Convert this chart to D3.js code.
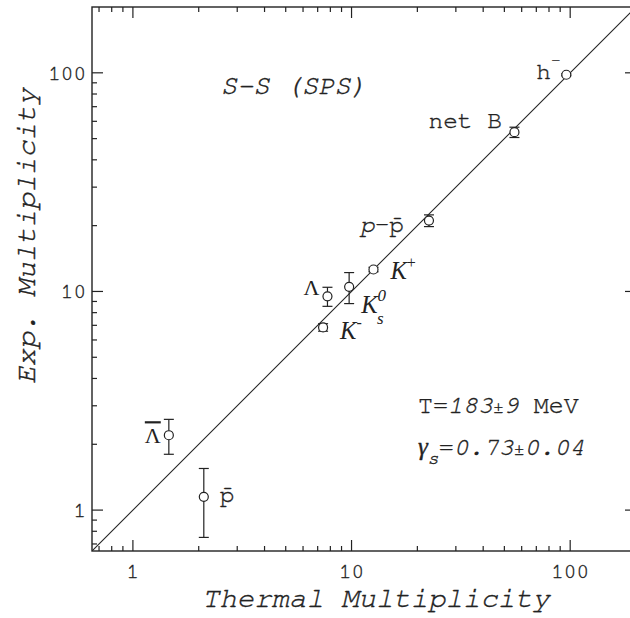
<!DOCTYPE html>
<html>
<head>
<meta charset="utf-8">
<script src="https://cdn.jsdelivr.net/npm/d3@7"></script>
<style>
  body { margin: 0; background: #fff; }
  text { fill: #222; }
  .heavy { stroke: #222; stroke-width: 0.35px; }
</style>
</head>
<body>
<div id="chart"></div>
<script>
// particle species, thermal-model prediction, measured value and its error
var particles = ["h-", "netB", "p-pbar", "K+", "K0s", "Lambda", "K-", "Lambdabar", "pbar"];
var thermal  = [96, 55.6, 22.6, 12.6, 9.75, 7.76, 7.41, 1.46, 2.11];
var measured = [98, 53.5, 21.1, 12.6, 10.5, 9.5, 6.85, 2.2, 1.15];
var errors   = [1, 2.9, 1.3, 0.3, 1.7, 0.95, 0.27, 0.4, 0.4];

var xTicks = [1, 10, 100];
var yTicks = [1, 10, 100];

var margin = { left: 92, top: 7 };
var size = 544;
var W = 630, H = 618;

var svg = d3.select("#chart").append("svg")
    .attr("width", W)
    .attr("height", H);

var g = svg.append("g")
    .attr("transform", "translate(" + margin.left + "," + margin.top + ")");

var xScale = d3.scaleLog().domain([0.65, 200]).range([0, size]);
var yScale = d3.scaleLog().domain([0.65, 200]).range([size, 0]);

// minor ticks 2..9 x 10^k inside the domain
function minorTicks(scale) {
    var out = [];
    [0.1, 1, 10, 100].forEach(function (p) {
        for (var i = 2; i <= 9; i++) {
            var v = i * p;
            if (v > scale.domain()[0] && v < scale.domain()[1]) out.push(v);
        }
    });
    return out;
}

var ink = "#222";

// frame
g.append("rect")
    .attr("width", size).attr("height", size)
    .attr("fill", "none").attr("stroke", ink).attr("stroke-width", 1.4);

// ticks pointing inward on all four sides
function drawTicks(cls, vals, len) {
    g.selectAll(".xb" + cls).data(vals).enter().append("line")
        .attr("x1", function (d) { return xScale(d); }).attr("x2", function (d) { return xScale(d); })
        .attr("y1", size).attr("y2", size - len)
        .attr("stroke", ink).attr("stroke-width", 1.2);
    g.selectAll(".xt" + cls).data(vals).enter().append("line")
        .attr("x1", function (d) { return xScale(d); }).attr("x2", function (d) { return xScale(d); })
        .attr("y1", 0).attr("y2", len)
        .attr("stroke", ink).attr("stroke-width", 1.2);
    g.selectAll(".yl" + cls).data(vals).enter().append("line")
        .attr("y1", function (d) { return yScale(d); }).attr("y2", function (d) { return yScale(d); })
        .attr("x1", 0).attr("x2", len)
        .attr("stroke", ink).attr("stroke-width", 1.2);
    g.selectAll(".yr" + cls).data(vals).enter().append("line")
        .attr("y1", function (d) { return yScale(d); }).attr("y2", function (d) { return yScale(d); })
        .attr("x1", size).attr("x2", size - len)
        .attr("stroke", ink).attr("stroke-width", 1.2);
}
drawTicks("major", xTicks, 11);
drawTicks("minor", minorTicks(xScale), 5);

var mono = "'Nimbus Mono PS', 'Nimbus Mono L', FreeMono, 'Courier New', Courier, 'Liberation Mono', monospace";
var serif = "'Liberation Serif', 'Times New Roman', serif";

// tick labels
g.selectAll(".xlab").data(xTicks).enter().append("text")
    .attr("class", "heavy")
    .attr("x", function (d) { return xScale(d); })
    .attr("y", size + 27)
    .attr("text-anchor", "middle")
    .attr("font-family", mono).attr("font-size", 21)
    .text(function (d) { return d; });

g.selectAll(".ylab").data(yTicks).enter().append("text")
    .attr("class", "heavy")
    .attr("x", -6)
    .attr("y", function (d) { return yScale(d) + 7; })
    .attr("text-anchor", "end")
    .attr("font-family", mono).attr("font-size", 21)
    .text(function (d) { return d; });

// axis titles
svg.append("text")
    .attr("class", "heavy")
    .attr("x", 376).attr("y", 607)
    .attr("text-anchor", "middle")
    .attr("font-family", mono).attr("font-size", 29).attr("font-style", "italic")
    .text("Thermal Multiplicity");

svg.append("text")
    .attr("class", "heavy")
    .attr("transform", "translate(35,236) rotate(-90)")
    .attr("text-anchor", "middle")
    .attr("font-family", mono).attr("font-size", 29).attr("font-style", "italic")
    .text("Exp. Multiplicity");

// y = x line
svg.append("clipPath").attr("id", "plotClip")
    .append("rect").attr("width", size).attr("height", size);

var diag = d3.line()
    .x(function (d) { return xScale(d); })
    .y(function (d) { return yScale(d); });

g.append("path")
    .datum(xScale.domain())
    .attr("d", diag)
    .attr("clip-path", "url(#plotClip)")
    .attr("fill", "none").attr("stroke", ink).attr("stroke-width", 1.1);

// error bars
var pts = particles.map(function (p, i) {
    return { name: p, x: thermal[i], y: measured[i], e: errors[i] };
});

var eb = g.selectAll(".err").data(pts).enter().append("g").attr("class", "err");
eb.append("line")
    .attr("x1", function (d) { return xScale(d.x); }).attr("x2", function (d) { return xScale(d.x); })
    .attr("y1", function (d) { return yScale(d.y + d.e); }).attr("y2", function (d) { return yScale(d.y - d.e); })
    .attr("stroke", ink).attr("stroke-width", 1.2);
[1, -1].forEach(function (s) {
    eb.append("line")
        .attr("x1", function (d) { return xScale(d.x) - 5; }).attr("x2", function (d) { return xScale(d.x) + 5; })
        .attr("y1", function (d) { return yScale(d.y + s * d.e); }).attr("y2", function (d) { return yScale(d.y + s * d.e); })
        .attr("stroke", ink).attr("stroke-width", 1.2);
});

g.selectAll(".dot").data(pts).enter().append("circle")
    .attr("class", "dot")
    .attr("cx", function (d) { return xScale(d.x); })
    .attr("cy", function (d) { return yScale(d.y); })
    .attr("r", 4.5)
    .attr("fill", "#fff").attr("stroke", ink).attr("stroke-width", 1.2);

// particle labels, offset from their points
function label(i, dx, dy) {
    return g.append("text")
        .attr("class", "heavy")
        .attr("x", xScale(thermal[i]) + dx)
        .attr("y", yScale(measured[i]) + dy)
        .attr("font-family", mono).attr("font-size", 24.5);
}

var t;
t = label(0, -30, 4);
t.append("tspan").text("h");
t.append("tspan").attr("dy", -14).attr("font-size", 16).text("-");

label(1, -86, -4).text("net B");

t = label(2, -69, 11);
t.append("tspan").attr("font-style", "italic").text("p");
t.append("tspan").text("-p\u0304");

t = label(3, 17, 9).attr("font-family", serif).attr("class", null);
t.append("tspan").attr("font-style", "italic").text("K");
t.append("tspan").attr("dy", -11).attr("font-size", 16).text("+");

t = label(4, 12, 26).attr("font-family", serif).attr("class", null);
t.append("tspan").attr("font-style", "italic").text("K");
t.append("tspan").attr("dy", -12).attr("font-size", 17).attr("font-style", "italic").text("0");
t.append("tspan").attr("dx", -9).attr("dy", 23).attr("font-size", 17).attr("font-style", "italic").text("s");

label(5, -24, -1).attr("font-family", serif).attr("font-size", 22).attr("class", null)
    .text("\u039b");

t = label(6, 17, 12).attr("font-family", serif).attr("class", null);
t.append("tspan").attr("font-style", "italic").text("K");
t.append("tspan").attr("dy", -11).attr("font-size", 16).text("-");

// anti-lambda with an overline
label(7, -24, 8).attr("font-family", serif).attr("font-size", 22).attr("class", null)
    .style("text-decoration", "overline")
    .text("\u039b");

label(8, 16, 5).text("p\u0304");

// annotations
svg.append("text")
    .attr("class", "heavy")
    .attr("x", 221).attr("y", 94)
    .attr("font-family", mono).attr("font-size", 27).attr("font-style", "italic")
    .text("S-S (SPS)");

t = svg.append("text")
    .attr("class", "heavy")
    .attr("x", 418).attr("y", 413)
    .attr("font-family", mono).attr("font-size", 25);
t.append("tspan").text("T=");
t.append("tspan").attr("font-style", "italic").text("183");
t.append("tspan").attr("font-size", 18).text("\u00b1");
t.append("tspan").attr("font-style", "italic").text("9");
t.append("tspan").text(" MeV");

t = svg.append("text")
    .attr("class", "heavy")
    .attr("x", 418).attr("y", 455)
    .attr("font-family", mono).attr("font-size", 25);
t.append("tspan").attr("font-family", serif).attr("font-style", "italic").text("\u03b3");
t.append("tspan").attr("dy", 9).attr("font-size", 18).attr("font-style", "italic").text("s");
t.append("tspan").attr("dy", -9).text("=");
t.append("tspan").attr("font-style", "italic").text("0.73");
t.append("tspan").attr("font-size", 18).text("\u00b1");
t.append("tspan").attr("font-style", "italic").text("0.04");
</script>
</body>
</html>
